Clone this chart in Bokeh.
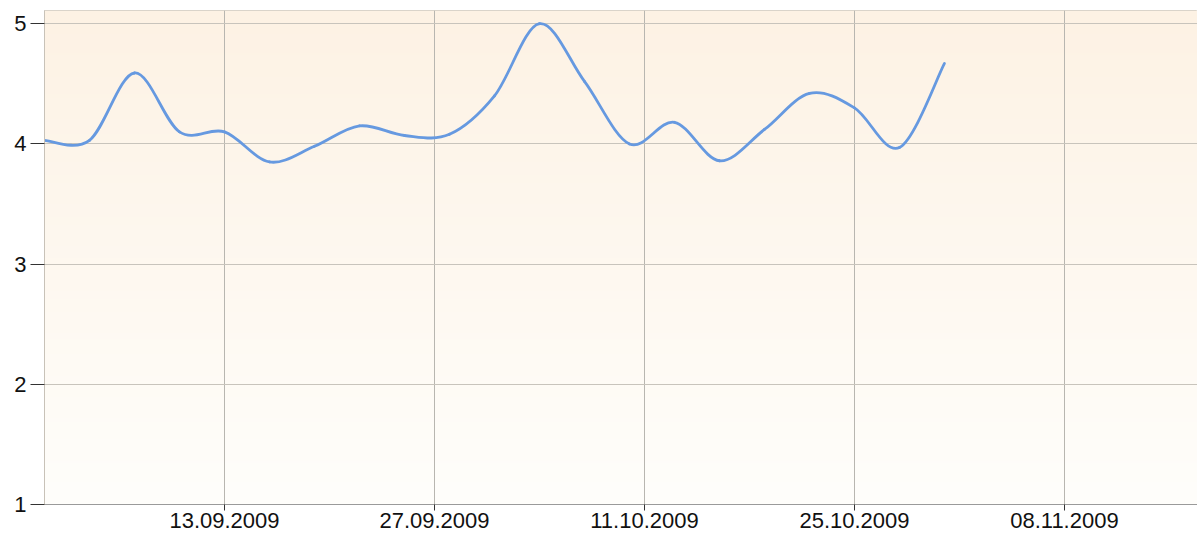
import numpy as np
from bokeh.plotting import figure
from bokeh.models import Range1d, FixedTicker, DatetimeTickFormatter
from bokeh.embed import file_html
from bokeh.resources import INLINE

# ---- data ----
dates = ["2009-09-01", "2009-09-04", "2009-09-07", "2009-09-10", "2009-09-13",
         "2009-09-16", "2009-09-19", "2009-09-22", "2009-09-25", "2009-09-28",
         "2009-10-01", "2009-10-04", "2009-10-07", "2009-10-10", "2009-10-13",
         "2009-10-16", "2009-10-19", "2009-10-22", "2009-10-25", "2009-10-28",
         "2009-10-31"]
values = [4.03, 4.03, 4.59, 4.10, 4.10, 3.85, 3.98, 4.15, 4.07, 4.08,
          4.40, 5.00, 4.52, 4.00, 4.18, 3.86, 4.12, 4.42, 4.30, 3.97, 4.67]
tick_dates = ["2009-09-13", "2009-09-27", "2009-10-11", "2009-10-25", "2009-11-08"]
y_ticks = [1, 2, 3, 4, 5]

DAY = 86400000.0
def ms(s):
    return float(np.datetime64(s, "ms").astype("int64"))

xs = np.array([ms(d) for d in dates])
ys = np.array(values, dtype=float)

x_start = ms("2009-09-01")
x_end = x_start + 76.87 * DAY

p = figure(width=1197, height=535, x_axis_type="datetime",
           output_backend="svg", toolbar_location=None,
           x_range=Range1d(x_start, x_end), y_range=Range1d(1, 5.11),
           min_border_left=44, min_border_top=10, min_border_right=0,
           min_border_bottom=31)

# background vertical gradient
n = 256
top = np.array([253, 242, 228]); bot = np.array([255, 254, 251])
img = np.zeros((n, 1), dtype=np.uint32)
view = img.view(dtype=np.uint8).reshape((n, 1, 4))
for i in range(n):
    t = i / (n - 1)  # 0 bottom -> 1 top
    c = bot + (top - bot) * t
    view[i, 0, 0] = int(c[0]); view[i, 0, 1] = int(c[1]); view[i, 0, 2] = int(c[2]); view[i, 0, 3] = 255
p.image_rgba(image=[img], x=x_start, y=1, dw=x_end - x_start, dh=4.11, level="image")
p.background_fill_color = "#fffefb"
p.border_fill_color = "white"
p.outline_line_color = "#cfcac2"

# Catmull-Rom smoothing rendered with Bezier segments
P = np.concatenate([[xs[0]], xs, [xs[-1]]])
Q = np.concatenate([[ys[0]], ys, [ys[-1]]])
x0 = P[1:-2]; y0 = Q[1:-2]
x1 = P[2:-1]; y1 = Q[2:-1]
cx0 = P[1:-2] + (P[2:-1] - P[0:-3]) / 6.0
cy0 = Q[1:-2] + (Q[2:-1] - Q[0:-3]) / 6.0
cx1 = P[2:-1] - (P[3:] - P[1:-2]) / 6.0
cy1 = Q[2:-1] - (Q[3:] - Q[1:-2]) / 6.0
p.bezier(x0=x0, y0=y0, x1=x1, y1=y1, cx0=cx0, cy0=cy0, cx1=cx1, cy1=cy1,
         line_color="#6699e0", line_width=2.8, line_cap="round")

# axes
p.xaxis.ticker = FixedTicker(ticks=[ms(d) for d in tick_dates])
fmt = "%d.%m.%Y"
p.xaxis.formatter = DatetimeTickFormatter(milliseconds=fmt, seconds=fmt, minsec=fmt,
                                          minutes=fmt, hourmin=fmt, hours=fmt,
                                          days=fmt, months=fmt, years=fmt)
p.yaxis.ticker = FixedTicker(ticks=y_ticks)
for ax in (p.xaxis[0], p.yaxis[0]):
    ax.major_label_text_font = "Liberation Sans"
    ax.major_label_text_font_size = "22px"
    ax.major_label_text_color = "#111111"
    ax.minor_tick_line_color = None
    ax.major_tick_line_color = "#333333"
    ax.major_tick_in = 0
p.xaxis.major_tick_out = 6
p.xaxis.major_label_standoff = 2
p.xaxis.axis_line_color = "#9a9a9a"
p.yaxis.major_tick_out = 14
p.yaxis.major_label_standoff = 4
p.yaxis.axis_line_color = "#c8c2b8"

p.xgrid.grid_line_color = "#b8b6b0"
p.ygrid.grid_line_color = "#c8c4bc"
p.xgrid.grid_line_width = 1
p.ygrid.grid_line_width = 1

open("out.html", "w").write(file_html(p, INLINE))
